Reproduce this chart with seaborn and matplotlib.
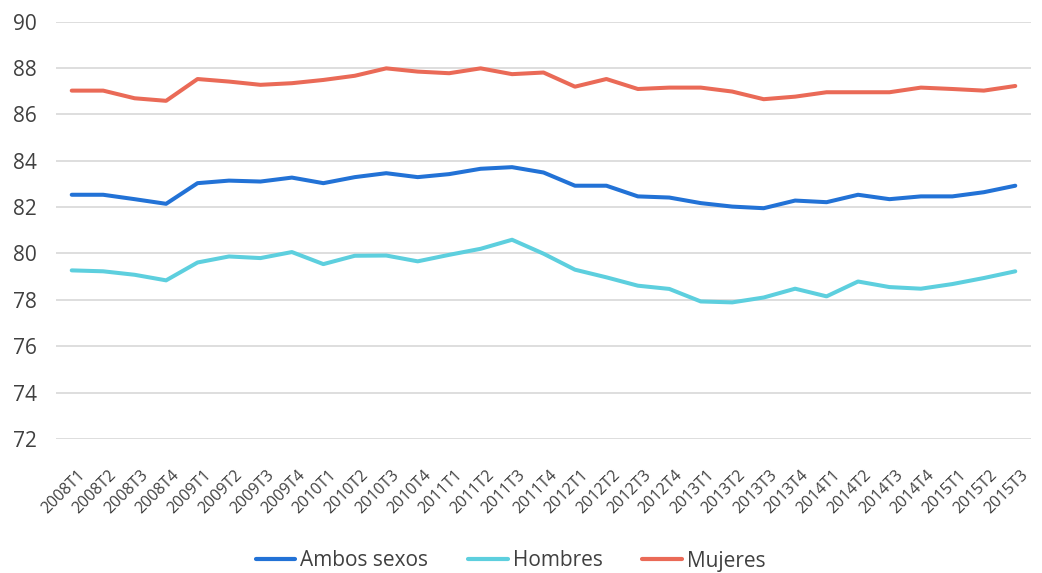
import matplotlib
matplotlib.use("Agg")
import matplotlib.pyplot as plt
import matplotlib.transforms as mtransforms
import seaborn as sns
import pandas as pd

periods = [f"{y}T{q}" for y in range(2008, 2016) for q in range(1, 5)][:31]

ambos = [82.53, 82.53, 82.34, 82.14, 83.03, 83.14, 83.10, 83.27, 83.03, 83.29,
         83.46, 83.29, 83.42, 83.65, 83.72, 83.49, 82.92, 82.92, 82.46, 82.41,
         82.17, 82.02, 81.95, 82.28, 82.21, 82.53, 82.34, 82.46, 82.46, 82.64,
         82.92]
hombres = [79.27, 79.23, 79.08, 78.84, 79.61, 79.87, 79.80, 80.06, 79.54, 79.90,
           79.91, 79.66, 79.94, 80.20, 80.59, 79.99, 79.30, 78.97, 78.61, 78.47,
           77.93, 77.89, 78.10, 78.48, 78.15, 78.79, 78.55, 78.48, 78.68, 78.94,
           79.23]
mujeres = [87.02, 87.02, 86.69, 86.58, 87.52, 87.41, 87.27, 87.34, 87.48, 87.66,
           87.98, 87.84, 87.77, 87.98, 87.73, 87.80, 87.19, 87.52, 87.09, 87.15,
           87.15, 86.98, 86.65, 86.76, 86.95, 86.95, 86.95, 87.15, 87.09, 87.02,
           87.22]

series_names = ["Ambos sexos", "Hombres", "Mujeres"]
colors = ["#2272D6", "#5DCFDE", "#EA6A57"]
yticks = [72, 74, 76, 78, 80, 82, 84, 86, 88, 90]

df = pd.DataFrame({
    "periodo": periods * 3,
    "idx": list(range(len(periods))) * 3,
    "valor": ambos + hombres + mujeres,
    "serie": [series_names[0]] * 31 + [series_names[1]] * 31 + [series_names[2]] * 31,
})

sns.set_style("white")
plt.rcParams["font.family"] = ["Open Sans", "DejaVu Sans"]
text_color = "#404040"

fig = plt.figure(figsize=(10.42, 5.73), dpi=100)
ax = fig.add_axes([56 / 1042, 1 - 439 / 573, (1031 - 56) / 1042, (439 - 21.5) / 573])

sns.lineplot(data=df, x="idx", y="valor", hue="serie", hue_order=series_names,
             palette=colors, linewidth=2.9, ax=ax, legend=False)

ax.set_xlim(-0.5, len(periods) - 0.5)
ax.set_ylim(72, 90)
ax.set_yticks(yticks)
ax.set_yticklabels([str(v) for v in yticks], fontsize=15, color=text_color)
ax.yaxis.grid(True, color="#D4D4D4", linewidth=1.1)
ax.xaxis.grid(False)
for s in ax.spines.values():
    s.set_visible(False)
ax.tick_params(axis="y", length=0, pad=14)
ax.tick_params(axis="x", length=0, pad=24)
ax.set_xticks(range(len(periods)))
ax.set_xticklabels(periods, rotation=45, ha="right", va="center",
                   rotation_mode="anchor", fontsize=11.5, color=text_color)
offset = mtransforms.ScaledTranslation(11 / 100, 0, fig.dpi_scale_trans)
for lab in ax.get_xticklabels():
    lab.set_transform(lab.get_transform() + offset)
ax.set_xlabel("")
ax.set_ylabel("")

handles = [plt.Line2D([], [], color=c, linewidth=3) for c in colors]
fig.legend(handles, series_names, loc="center", bbox_to_anchor=(0.49, 1 - 561 / 573),
           ncol=3, frameon=False, fontsize=15, handlelength=1.9, handletextpad=0.25,
           columnspacing=1.9, labelcolor=text_color)

fig.savefig("out.png", dpi=100)
